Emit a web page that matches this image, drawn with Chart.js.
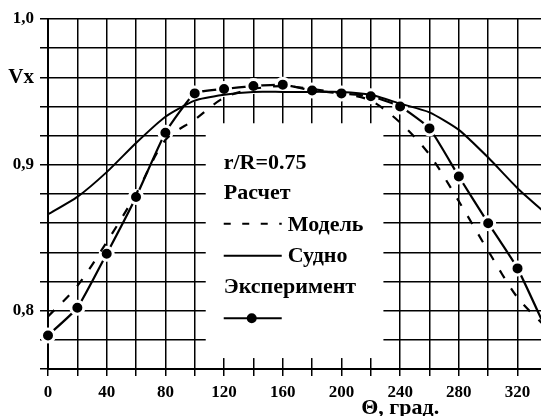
<!DOCTYPE html>
<html>
<head>
<meta charset="utf-8">
<script src="https://cdn.jsdelivr.net/npm/chart.js@4.4.0/dist/chart.umd.min.js"></script>
<style>
    html, body { margin: 0; padding: 0; background: #fff; }
</style>
</head>
<body>
<canvas id="chart" width="541" height="416"></canvas>
<script>
// Angle, degrees
const angles = [0, 20, 40, 60, 80, 100, 120, 140, 160, 180, 200, 220, 240, 260, 280, 300, 320, 340];

// Расчет: Судно (solid)
const shipValues = [0.866, 0.878, 0.895, 0.915, 0.933, 0.944, 0.948, 0.950, 0.950, 0.950, 0.950, 0.948, 0.942, 0.936, 0.924, 0.905, 0.884, 0.866];
// Расчет: Модель (dashed)
const modelValues = [0.796, 0.817, 0.847, 0.880, 0.917, 0.931, 0.946, 0.952, 0.954, 0.952, 0.949, 0.944, 0.929, 0.907, 0.875, 0.841, 0.809, 0.788];
// Эксперимент (markers)
const experimentValues = [0.783, 0.802, 0.839, 0.878, 0.922, 0.949, 0.952, 0.954, 0.955, 0.951, 0.949, 0.947, 0.940, 0.925, 0.892, 0.860, 0.829, 0.786];

const xTicks = [0, 20, 40, 60, 80, 100, 120, 140, 160, 180, 200, 220, 240, 260, 280, 300, 320];
const xLabelTicks = [0, 40, 80, 120, 160, 200, 240, 280, 320];
const yTicks = [0.76, 0.78, 0.80, 0.82, 0.84, 0.86, 0.88, 0.90, 0.92, 0.94, 0.96, 0.98, 1.00];
const yLabelValues = [0.80, 0.90, 0.96, 1.00];
const yLabelTexts = ['0,8', '0,9', 'Vx', '1,0'];

const FONT = "'Liberation Serif', 'Times New Roman', serif";

function toPoints(values) {
    return angles.map((a, i) => ({ x: a, y: values[i] }));
}

function yLabelIndex(value) {
    return yLabelValues.findIndex(v => Math.abs(v - value) < 0.001);
}

// White note box with the legend text, on top of the grid
const noteBox = {
    id: 'noteBox',
    beforeDatasetsDraw(chart) {
        const x = chart.scales.x, y = chart.scales.y;
        const left = x.getPixelForValue(107.5);
        const right = x.getPixelForValue(228.6);
        const top = y.getPixelForValue(0.9285);
        const bottom = y.getPixelForValue(0.7675);
        const ctx = chart.ctx;
        ctx.save();
        ctx.fillStyle = '#fff';
        ctx.fillRect(left, top, right - left, bottom - top);
        ctx.restore();
    },
    afterDraw(chart) {
        const x = chart.scales.x, y = chart.scales.y;
        const ctx = chart.ctx;
        const left = x.getPixelForValue(107.5) + 18;
        const top = y.getPixelForValue(0.9285);
        ctx.save();
        ctx.fillStyle = '#000';
        ctx.strokeStyle = '#000';
        ctx.font = 'bold 22px ' + FONT;
        ctx.textBaseline = 'alphabetic';
        ctx.fillText('r/R=0.75', left, top + 46);
        ctx.fillText('Расчет', left, top + 76);
        ctx.fillText('Модель', left + 64, top + 108);
        ctx.fillText('Судно', left + 64, top + 139);
        ctx.fillText('Эксперимент', left, top + 170);

        ctx.lineWidth = 2.2;
        ctx.setLineDash([7, 11.5]);
        ctx.beginPath();
        ctx.moveTo(left, top + 100.5);
        ctx.lineTo(left + 58, top + 100.5);
        ctx.stroke();
        ctx.setLineDash([]);

        ctx.beginPath();
        ctx.moveTo(left, top + 132.5);
        ctx.lineTo(left + 58, top + 132.5);
        ctx.stroke();

        ctx.beginPath();
        ctx.moveTo(left, top + 195);
        ctx.lineTo(left + 58, top + 195);
        ctx.stroke();
        ctx.beginPath();
        ctx.arc(left + 28, top + 195, 5, 0, Math.PI * 2);
        ctx.fill();

        // x axis title
        ctx.font = 'bold 22px ' + FONT;
        ctx.fillText('Θ, град.', x.getPixelForValue(213.5), 414);
        ctx.restore();
    }
};

const chart = new Chart(document.getElementById('chart').getContext('2d'), {
    type: 'line',
    data: {
        datasets: [
            {
                label: 'Судно',
                data: toPoints(shipValues),
                borderColor: '#000',
                borderWidth: 2,
                pointRadius: 0,
                tension: 0.2,
                order: 1
            },
            {
                label: 'Модель',
                data: toPoints(modelValues),
                borderColor: '#000',
                borderWidth: 2.2,
                borderDash: [9, 12],
                pointRadius: 0,
                tension: 0.3,
                order: 0
            },
            {
                label: 'Эксперимент',
                data: toPoints(experimentValues),
                borderColor: '#000',
                borderWidth: 2.2,
                pointRadius: 6.5,
                pointBackgroundColor: '#000',
                pointBorderColor: '#fff',
                pointBorderWidth: 3,
                tension: 0.15,
                clip: false,
                order: 2
            }
        ]
    },
    options: {
        responsive: false,
        animation: false,
        devicePixelRatio: 1,
        layout: {
            autoPadding: false,
            padding: { top: 19, right: 0, left: 0, bottom: 0 }
        },
        plugins: {
            legend: { display: false },
            tooltip: { enabled: false }
        },
        scales: {
            x: {
                type: 'linear',
                min: 0,
                max: 336,
                afterBuildTicks: function(scale) {
                    scale.ticks = xTicks.map(v => ({ value: v }));
                },
                afterFit: function(scale) {
                    scale.height = 47;
                    scale.paddingLeft = 0;
                    scale.paddingRight = 0;
                },
                grid: { color: '#000', lineWidth: 1.5, tickLength: 7 },
                border: { color: '#000', width: 2 },
                ticks: {
                    autoSkip: false,
                    maxRotation: 0,
                    padding: 6,
                    color: '#000',
                    font: { family: FONT, weight: 'bold', size: 17 },
                    callback: function(value) {
                        return xLabelTicks.includes(value) ? String(value) : '';
                    }
                }
            },
            y: {
                min: 0.76,
                max: 1.0,
                afterBuildTicks: function(scale) {
                    scale.ticks = yTicks.map(v => ({ value: v }));
                },
                afterFit: function(scale) {
                    scale.width = 48;
                },
                grid: { color: '#000', lineWidth: 1.5, tickLength: 8 },
                border: { color: '#000', width: 2 },
                ticks: {
                    autoSkip: false,
                    padding: 6,
                    color: '#000',
                    font: function(ctx) {
                        const isVx = ctx.tick && yLabelIndex(ctx.tick.value) === 2;
                        return { family: FONT, weight: 'bold', size: isVx ? 21 : 17 };
                    },
                    callback: function(value) {
                        const i = yLabelIndex(value);
                        return i >= 0 ? yLabelTexts[i] : '';
                    }
                }
            }
        }
    },
    plugins: [noteBox]
});
</script>
</body>
</html>
